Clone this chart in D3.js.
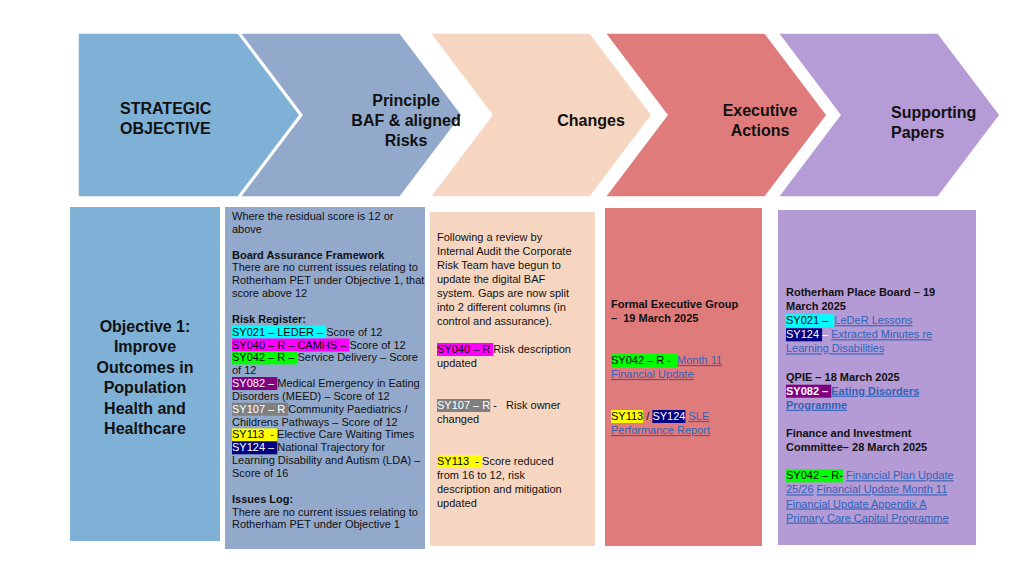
<!DOCTYPE html>
<html><head><meta charset="utf-8">
<script src="https://cdn.jsdelivr.net/npm/d3@7"></script>
<style>body{margin:0;background:#fff}text{font-family:"Liberation Sans",Arial,sans-serif;white-space:pre}</style>
</head><body><div id="container"></div>
<script>
// header chevrons
const headers = [["STRATEGIC","OBJECTIVE"],["Principle","BAF & aligned","Risks"],["Changes"],["Executive","Actions"],["Supporting","Papers"]];
const headColors = ["#7fb0d6","#93a9cc","#f6d6c0","#e07b7b","#b69cd6"];
const bodyColors = ["#7fb0d6","#93a9cc","#f6d6c0","#e07b7b","#b49bd6"];

// highlight colours: [background, text]
const hl = {cy:["#00ffff","#000"],mg:["#ff00ff","#000"],gr:["#00ff00","#000"],pu:["#800080","#fff"],
            gy:["#808080","#fff"],ye:["#ffff00","#000"],nv:["#000080","#fff"]};

// body lines: each line is a list of [text, highlight, format]
const col2 = [
  [["Where the residual score is 12 or"]],[["above"]],[],
  [["Board Assurance Framework","","b"]],
  [["There are no current issues relating to"]],
  [["Rotherham PET under Objective 1, that"]],
  [["score above 12"]],[],
  [["Risk Register:","","b"]],
  [["SY021 – LEDER – ","cy"],["Score of 12"]],
  [["SY040 – R – CAMHS – ","mg"],["Score of 12"]],
  [["SY042 – R – ","gr"],["Service Delivery – Score"]],
  [["of 12"]],
  [["SY082 – ","pu"],["Medical Emergency in Eating"]],
  [["Disorders (MEED) – Score of 12"]],
  [["SY107 – R ","gy"],["Community Paediatrics /"]],
  [["Childrens Pathways – Score of 12"]],
  [["SY113  - ","ye"],["Elective Care Waiting Times"]],
  [["SY124 – ","nv"],["National Trajectory for"]],
  [["Learning Disability and Autism (LDA) –"]],
  [["Score of 16"]],[],
  [["Issues Log:","","b"]],
  [["There are no current issues relating to"]],
  [["Rotherham PET under Objective 1"]]
];
const col3 = [
  [["Following a review by"]],[["Internal Audit the Corporate"]],[["Risk Team have begun to"]],
  [["update the digital BAF"]],[["system. Gaps are now split"]],[["into 2 different columns (in"]],
  [["control and assurance)."]],[],
  [["SY040 – R ","mg"],["Risk description"]],[["updated"]],[],[],
  [["SY107 – R","gy"],[" -   Risk owner"]],[["changed"]],[],[],
  [["SY113  - ","ye"],["Score reduced"]],[["from 16 to 12, risk"]],
  [["description and mitigation"]],[["updated"]]
];
const col4 = [
  [["Formal Executive Group","","b"]],[["–  19 March 2025","","b"]],[],[],
  [["SY042 – R -  ","gr"],["Month 11","","l"]],[["Financial Update","","l"]],[],[],
  [["SY113","ye"],[" / "],["SY124","nv"],[" "],["SLE","","l"]],[["Performance Report","","l"]]
];
const col5 = [
  [["Rotherham Place Board – 19","","b"]],[["March 2025","","b"]],
  [["SY021 –  ","cy"],["LeDeR Lessons","","l"]],
  [["SY124 ","nv"],["– ","","w"],["Extracted Minutes re","","l"]],
  [["Learning Disabilities","","l"]],[],
  [["QPIE – 18 March 2025","","b"]],
  [["SY082 – ","pu","b"],["Eating Disorders","","bl"]],[["Programme","","bl"]],[],
  [["Finance and Investment","","b"]],[["Committee– 28 March 2025","","b"]],[],
  [["SY042 – R-","gr"],[" "],["Financial Plan Update","","l"]],
  [["25/26","","l"],[" "],["Financial Update Month 11","","l"]],
  [["Financial Update Appendix A","","l"]],
  [["Primary Care Capital Programme","","l"]]
];
const objective = ["Objective 1:","Improve","Outcomes in","Population","Health and","Healthcare"];

const W = 1024, H = 576;
const svg = d3.select("#container").append("svg").attr("width",W).attr("height",H);

// chevrons
const chevX = [78,240,430,605,778];
const depth = 62, chevTop = 33, chevBot = 197, chevMid = 115, len = 222;
chevX.forEach((x,i) => {
  const notch = i === 0 ? 0 : depth;
  const pts = [[x,chevTop],[x+len-depth,chevTop],[x+len,chevMid],[x+len-depth,chevBot],[x,chevBot],[x+notch,chevMid]];
  svg.append("polygon").attr("points",pts.map(p => p.join(",")).join(" "))
    .attr("fill",headColors[i]).attr("stroke","#fff").attr("stroke-width",1.5);
});
const headPos = [[120,108,"start"],[406,100,"middle"],[591,120,"middle"],[760,110,"middle"],[891,112,"start"]];
headers.forEach((lines,i) => {
  const [x,y,anchor] = headPos[i];
  lines.forEach((t,j) => svg.append("text").attr("x",x).attr("y",y+j*20+6)
    .attr("text-anchor",anchor).attr("font-size",16).attr("font-weight","bold").attr("fill","#111").text(t));
});

// body boxes
const boxes = [[70,207,150,334],[225,207,200,342],[430,212,165,334],[605,208,157,338],[778,210,198,335]];
boxes.forEach((b,i) => svg.append("rect").attr("x",b[0]).attr("y",b[1]).attr("width",b[2]).attr("height",b[3]).attr("fill",bodyColors[i]));

objective.forEach((t,j) => svg.append("text").attr("x",145).attr("y",332+j*20.4)
  .attr("text-anchor","middle").attr("font-size",16).attr("font-weight","bold").attr("fill","#111").text(t));

function drawCol(lines, x, y0, lh){
  const g = svg.append("g");
  lines.forEach((segs,j) => {
    let cx = x;
    const y = y0 + j*lh;
    segs.forEach(([t,h,f]) => {
      f = f || "";
      const bg = h ? hl[h] : null;
      const rect = bg ? g.append("rect").attr("fill",bg[0]) : null;
      const link = f.includes("l");
      const tx = g.append("text").attr("x",cx).attr("y",y).attr("font-size",11)
        .attr("font-weight",f.includes("b") ? "bold" : "normal")
        .attr("fill",bg ? bg[1] : link ? "#2f63b8" : f === "w" ? "#fff" : "#111")
        .attr("text-decoration",link ? "underline" : null).text(t);
      const w = tx.node().getComputedTextLength();
      if (rect) rect.attr("x",cx).attr("y",y-10).attr("width",w).attr("height",13);
      cx += w;
    });
  });
}
drawCol(col2,232,220,12.85);
drawCol(col3,437,241,14);
drawCol(col4,611,308,14);
drawCol(col5,786,296,14.1);
</script></body></html>
